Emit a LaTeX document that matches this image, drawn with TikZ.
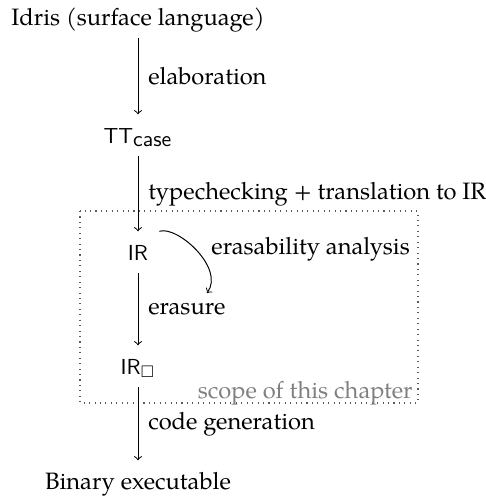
\documentclass[tikz,border=0pt]{standalone}
\usepackage{amssymb}
\usepackage{fontspec}
\setmainfont[Scale=1.09]{TeX Gyre Pagella}
\begin{document}
\begin{tikzpicture}[x=0.46pt,y=-0.46pt,
  stage/.style={anchor=base, inner xsep=0pt, inner ysep=6pt, text height=7pt, text depth=0pt},
  flow/.style={->, line width=0.45pt},
  lbl/.style={right, inner xsep=4.5pt, inner ysep=0pt},
  scopebox/.style={dotted, line width=0.5pt, black!65},
  scopelbl/.style={anchor=base east, inner sep=0pt, text=black!50}]
  \useasboundingbox (0,0) rectangle (486,499);

  % compilation stages
  \node[stage] (idris) at (138,25) {Idris (surface language)};
  \node[stage] (tt) at (138,143) {\textsf{TT}$_{\textsf{case}}$};
  \node[stage, inner xsep=5pt] (ir) at (138,260) {\textsf{IR}};
  \node[stage] (irb) at (138,374) {\textsf{IR}$_{\square}$};
  \node[stage] (bin) at (138,489) {Binary executable};

  % region handled in this chapter
  \draw[scopebox] (80,211) rectangle (418,403);
  \node[scopelbl] (scope) at (413,398) {scope of this chapter};

  % translation steps
  \draw[flow] (idris) -- (tt) node[midway, lbl] {elaboration};
  \draw[flow] (tt) -- (ir) node[midway, lbl] {typechecking + translation to IR};
  \draw[flow] (ir) -- (irb) node[midway, lbl] {erasure};
  \draw[flow] (irb) -- (bin) node[midway, lbl] {code generation};

  % analysis pass on IR
  \coordinate (eaend) at (207,293);
  \draw[flow] (ir.north east) .. controls +(18,-6) and +(18,-25) .. (eaend);
  \node[anchor=base west, inner sep=0pt] (ealbl) at (211,254) {erasability analysis};
\end{tikzpicture}
\end{document}
